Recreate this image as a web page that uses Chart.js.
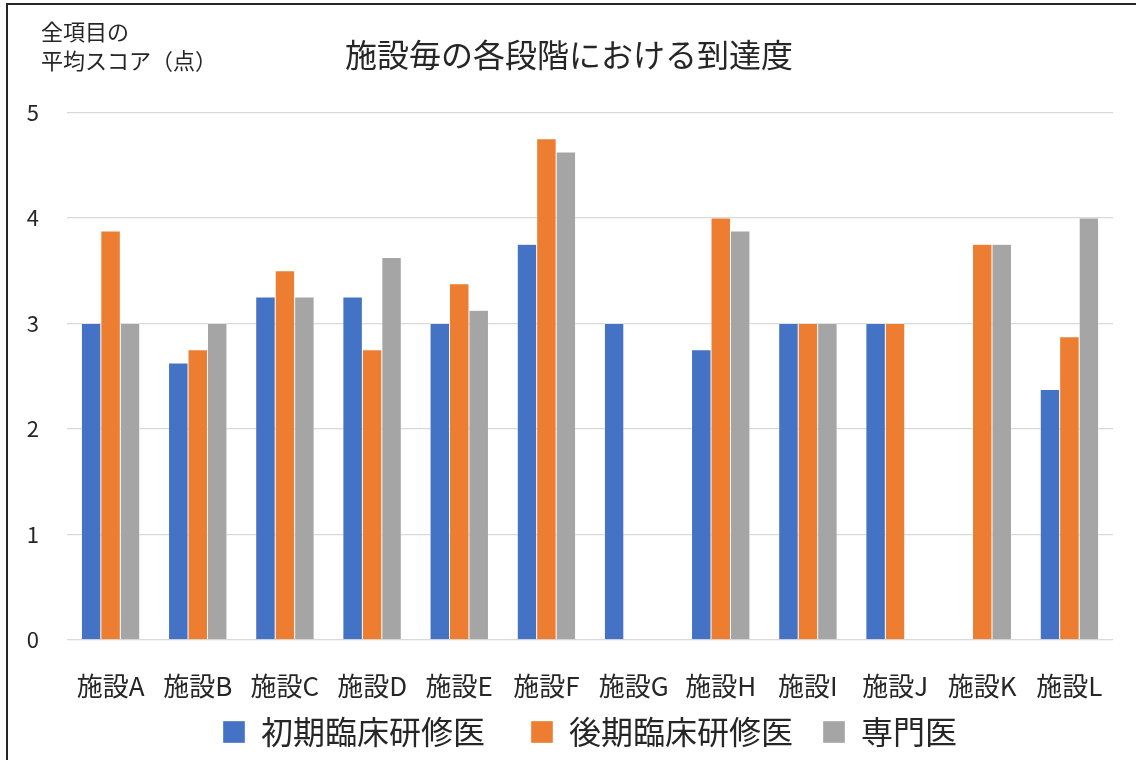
<!DOCTYPE html>
<html lang="ja">
<head>
<meta charset="utf-8">
<title>施設毎の各段階における到達度</title>
<script src="https://cdn.jsdelivr.net/npm/chart.js@4.4.1/dist/chart.umd.min.js"></script>
<style>
    html, body { margin: 0; padding: 0; background: #fff; }
    #wrap { position: relative; width: 1136px; height: 760px; overflow: hidden; }
    #frame {
        position: absolute; left: 6px; top: 3px; right: -10px; bottom: -10px;
        border-left: 2px solid #262626; border-top: 2px solid #262626;
        pointer-events: none;
    }
    canvas { position: absolute; left: 0; top: 0; }
</style>
</head>
<body>
<div id="wrap">
    <canvas id="chart" width="1136" height="760"></canvas>
    <div id="frame"></div>
</div>
<script>
const FONT = '"Noto Sans CJK JP", "Noto Sans", sans-serif';

// data
const facilities = ["施設A", "施設B", "施設C", "施設D", "施設E", "施設F",
                    "施設G", "施設H", "施設I", "施設J", "施設K", "施設L"];
const initialResidents = [3, 2.625, 3.25, 3.25, 3, 3.75, 3, 2.75, 3, 3, null, 2.375];
const seniorResidents  = [3.875, 2.75, 3.5, 2.75, 3.375, 4.75, null, 4, 3, 3, 3.75, 2.875];
const specialists      = [3, 3, 3.25, 3.625, 3.125, 4.625, null, 3.875, 3, null, 3.75, 4];
const yTicks = [0, 1, 2, 3, 4, 5];
const yTitleLines = ["全項目の", "平均スコア（点）"];

// y axis caption in the top left corner
const yTitlePlugin = {
    id: "yTitle",
    afterDraw(chart) {
        const ctx = chart.ctx;
        ctx.save();
        ctx.fillStyle = "#262626";
        ctx.font = "22px " + FONT;
        ctx.textBaseline = "middle";
        ctx.textAlign = "left";
        ctx.fillText(yTitleLines[0], 41, 32);
        ctx.fillText(yTitleLines[1], 41, 61);
        ctx.restore();
    }
};

const makeSet = (label, data, color) => ({
    label: label,
    data: data,
    backgroundColor: color,
    borderColor: "#ffffff",
    borderWidth: { left: 0.5, right: 0.5, top: 0.5, bottom: 0 },
    categoryPercentage: 0.67,
    barPercentage: 1.0
});

// trailing spaces to mimic the wider gaps between legend entries
const legendGaps = ["\u3000", "\u2002", ""];

new Chart(document.getElementById("chart"), {
    type: "bar",
    data: {
        labels: facilities,
        datasets: [
            makeSet("初期臨床研修医", initialResidents, "#4472C4"),
            makeSet("後期臨床研修医", seniorResidents, "#ED7D31"),
            makeSet("専門医", specialists, "#A5A5A5")
        ]
    },
    options: {
        responsive: false,
        animation: false,
        layout: { padding: { left: 25, right: 23, top: 0, bottom: 2 } },
        plugins: {
            title: {
                display: true,
                text: "施設毎の各段階における到達度",
                color: "#262626",
                font: { family: FONT, size: 32, weight: "normal" },
                padding: { top: 36, bottom: 38 }
            },
            legend: {
                position: "bottom",
                fullSize: false,
                labels: {
                    color: "#262626",
                    font: { family: FONT, size: 32 },
                    boxWidth: 22,
                    boxHeight: 22,
                    padding: 14,
                    generateLabels(chart) {
                        const items = Chart.defaults.plugins.legend.labels.generateLabels(chart);
                        items.forEach((it, i) => { it.text += legendGaps[i] || ""; });
                        return items;
                    }
                }
            },
            tooltip: { enabled: false }
        },
        scales: {
            x: {
                afterFit(scale) { scale.height = 62; },
                grid: { display: false, drawTicks: false },
                border: { display: false },
                ticks: {
                    color: "#262626",
                    font: { family: FONT, size: 26 },
                    padding: 31,
                    maxRotation: 0,
                    autoSkip: false
                }
            },
            y: {
                min: 0,
                max: 5,
                afterFit(scale) { scale.width = 42; },
                afterBuildTicks(scale) { scale.ticks = yTicks.map(v => ({ value: v })); },
                grid: { color: "#d9d9d9", lineWidth: 1.3, drawTicks: false },
                border: { display: false },
                ticks: {
                    color: "#262626",
                    font: { family: FONT, size: 22 },
                    padding: 28
                }
            }
        }
    },
    plugins: [yTitlePlugin]
});
</script>
</body>
</html>
